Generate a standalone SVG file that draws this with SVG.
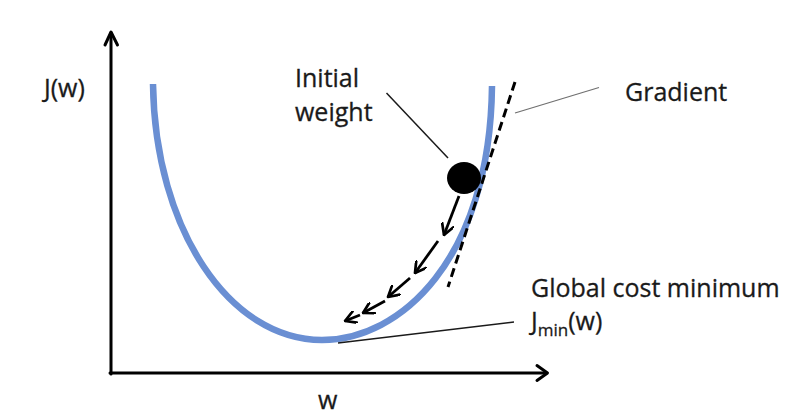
<svg xmlns="http://www.w3.org/2000/svg" width="793" height="415" viewBox="0 0 793 415">
  <style>
    .lbl { font-family: "Open Sans", "Noto Sans", "Liberation Sans", sans-serif; font-size: 25px; fill: #1a1a1a; stroke: #1a1a1a; stroke-width: 0.3; }
    .axis { stroke: #000; stroke-width: 3; fill: none; stroke-linecap: round; }
    .axhead { stroke: #000; stroke-width: 3; fill: none; stroke-linecap: round; stroke-linejoin: round; }
    .leader { stroke: #1a1a1a; stroke-width: 1.5; fill: none; }
    .leader-gray { stroke: #707070; stroke-width: 1.3; fill: none; }
    .step { stroke: #000; stroke-width: 2.8; fill: none; marker-end: url(#chev); }
  </style>
  <defs>
    <marker id="chev" viewBox="0 0 13 13" refX="11.5" refY="6.5" markerWidth="13" markerHeight="13" markerUnits="userSpaceOnUse" orient="auto">
      <path d="M1,0.5 L11.5,6.5 L1,12.5" fill="none" stroke="#000" stroke-width="2.7" stroke-linecap="round" stroke-linejoin="round"/>
    </marker>
  </defs>
  <rect width="793" height="415" fill="#ffffff"/>

  <g id="axes">
    <line class="axis" x1="111" y1="374" x2="111" y2="33"/>
    <path class="axhead" d="M105,45 L111,32 L117.5,45"/>
    <line class="axis" x1="110" y1="373" x2="546" y2="373"/>
    <path class="axhead" d="M537,365.5 L547.5,373 L537,380.5"/>
  </g>

  <g id="cost-curve">
    <path d="M153,84 C155,230 230,340 322,340 C400,340 490,260 492,86" fill="none" stroke="#6a8fd3" stroke-width="6.5" stroke-linecap="butt"/>
  </g>

  <g id="gradient-tangent">
    <line x1="515" y1="82" x2="448" y2="287" stroke="#000" stroke-width="3" stroke-dasharray="9,5"/>
  </g>

  <g id="initial-weight-ball">
    <ellipse cx="464" cy="178" rx="17" ry="16" fill="#000"/>
  </g>

  <g id="connectors">
    <line class="leader" x1="386.5" y1="93" x2="448" y2="158"/>
    <line class="leader-gray" x1="515" y1="113" x2="599" y2="87.5"/>
    <line class="leader" x1="338" y1="343" x2="514" y2="322"/>
    <line class="step" x1="459" y1="196" x2="444" y2="235"/>
    <line class="step" x1="438" y1="241" x2="415" y2="273"/>
    <line class="step" x1="410" y1="278" x2="388" y2="297"/>
    <line class="step" x1="385" y1="301" x2="363" y2="313"/>
    <line class="step" x1="360" y1="315" x2="345" y2="321"/>
  </g>

  <g id="label-jw">
    <text class="lbl" x="44" y="97">J(w)</text>
  </g>
  <g id="label-initial-weight">
    <text class="lbl" x="295" y="87">Initial</text>
    <text class="lbl" x="295" y="121">weight</text>
  </g>
  <g id="label-gradient">
    <text class="lbl" x="625" y="101">Gradient</text>
  </g>
  <g id="label-global-min">
    <text class="lbl" x="531" y="297">Global cost minimum</text>
    <text class="lbl" x="531" y="330">J<tspan font-size="17" dy="6">min</tspan><tspan dy="-6">(w)</tspan></text>
  </g>
  <g id="label-w">
    <text class="lbl" x="318" y="409">w</text>
  </g>
</svg>
